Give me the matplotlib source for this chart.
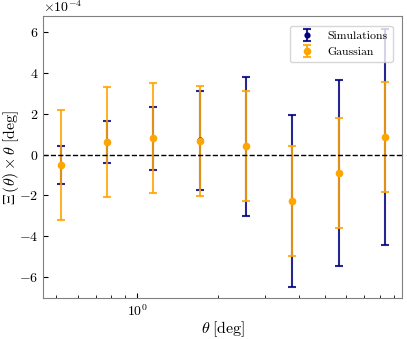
import matplotlib
matplotlib.use('Agg')
import matplotlib.pyplot as plt
import numpy as np

plt.rcParams['font.family'] = 'serif'
plt.rcParams['font.serif'] = ['cmr10', 'DejaVu Serif']
plt.rcParams['mathtext.fontset'] = 'cm'
plt.rcParams['axes.formatter.use_mathtext'] = True
plt.rcParams['axes.unicode_minus'] = True

# angular bins [deg]
theta = [0.52, 0.77, 1.15, 1.71, 2.54, 3.77, 5.61, 8.34]

# values in units of 1e-4
sim_mean = [-0.52, 0.61, 0.80, 0.69, 0.40, -2.27, -0.90, 0.85]
sim_err = [0.93, 1.05, 1.54, 2.44, 3.40, 4.21, 4.54, 5.29]
gauss_mean = [-0.51, 0.61, 0.79, 0.68, 0.42, -2.26, -0.89, 0.87]
gauss_err = [2.70, 2.69, 2.69, 2.69, 2.70, 2.70, 2.70, 2.70]

scale = 1e-4

fig = plt.figure(figsize=(4.07, 3.39), dpi=100)
ax = fig.add_axes([0.106, 0.121, 0.882, 0.832])

for mean, err, col, lab, ms in [(sim_mean, sim_err, 'navy', 'Simulations', 4.5),
                                (gauss_mean, gauss_err, 'orange', 'Gaussian', 5.5)]:
    pts, caps, bars = ax.errorbar(theta, np.array(mean) * scale, yerr=np.array(err) * scale,
                                  fmt='o', color=col, ms=ms, capsize=3, capthick=1.5,
                                  elinewidth=1.5, label=lab)
    pts.set_markeredgewidth(0)
    for c in caps:
        c.set_alpha(0.85)
    for b in bars:
        b.set_alpha(0.85)
ax.axhline(0, color='k', ls='--', lw=1)

ax.set_xscale('log')
ax.set_xlim(0.447, 9.67)
ax.set_ylim(-7.03e-4, 6.79e-4)
ax.set_yticks(np.array([-6, -4, -2, 0, 2, 4, 6]) * scale)
ax.ticklabel_format(axis='y', style='sci', scilimits=(0, 0))
ax.tick_params(direction='in', which='both', labelsize=10)

for sp in ax.spines.values():
    sp.set_color('0.5')

ax.set_xlabel(r'$\theta\;[\rm deg]$', fontsize=11.5)
ax.set_ylabel(r'$\Xi\,(\theta)\times\theta\;[\rm deg]$', fontsize=11.5)
ax.xaxis.set_label_coords(0.5, -0.075)
ax.yaxis.set_label_coords(-0.062, 0.5)
ax.legend(loc='upper right', fontsize=8.5, bbox_to_anchor=(0.99, 0.985))

fig.savefig('out.png', dpi=100)
